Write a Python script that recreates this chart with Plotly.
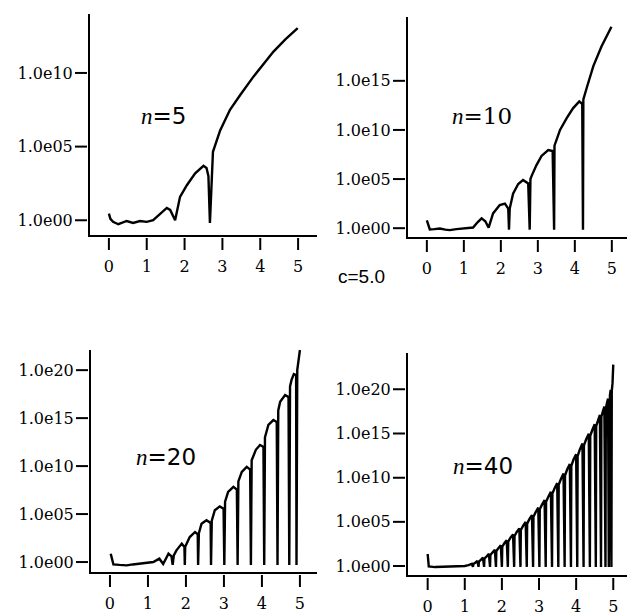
import plotly.graph_objects as go

# Curves, log10 of |f| (dips drawn to the plot floor)
n5_x = [0.0, 0.04, 0.11, 0.25, 0.47, 0.64, 0.82, 1.0, 1.17, 1.35, 1.53, 1.62, 1.75,
        1.88, 2.06, 2.28, 2.5, 2.58, 2.63, 2.67, 2.75, 2.94, 3.2, 3.47, 3.82, 4.35,
        4.67, 4.99]
n5_logy = [0.45, 0.1, -0.11, -0.27, -0.05, -0.18, -0.05, -0.11, 0.0, 0.45, 0.84, 0.7, 0.0,
           1.59, 2.38, 3.18, 3.7, 3.55, 3.0, -0.18, 4.65, 6.1, 7.5, 8.5, 9.75, 11.45,
           12.3, 13.04]

n10_x = [0.0, 0.08, 0.2, 0.35, 0.5, 0.62, 0.8, 1.0, 1.25, 1.37, 1.48, 1.58, 1.67,
         1.79, 1.97, 2.11, 2.2, 2.22, 2.24, 2.33, 2.47, 2.6, 2.74, 2.78, 2.8, 2.83,
         2.96, 3.1, 3.28, 3.4, 3.44, 3.45, 3.6, 3.78, 3.95, 4.12, 4.2, 4.22, 4.23,
         4.33, 4.5, 4.72, 4.99]
n10_logy = [0.8, -0.13, -0.1, -0.03, -0.15, -0.2, -0.1, -0.05, 0.07, 0.6, 1.0, 0.7, 0.05,
            1.5, 2.35, 2.5, 2.0, -0.15, 2.0, 3.5, 4.5, 4.9, 4.55, -0.15, 5.0, 5.3,
            6.4, 7.35, 7.96, 7.85, -0.15, 8.4, 10.0, 11.2, 12.2, 12.9, 12.65, -0.15, 13.1,
            14.4, 16.5, 18.5, 20.5]

n20_x = [0.02, 0.09, 0.25, 0.44, 0.6, 0.79, 1.0, 1.14, 1.3, 1.4, 1.54, 1.62, 1.65,
         1.68, 1.75, 1.89, 1.96, 1.97, 1.98, 2.02, 2.1, 2.24, 2.31, 2.32, 2.34, 2.41,
         2.54, 2.65, 2.66, 2.68, 2.76, 2.89, 2.99, 3.01, 3.03, 3.11, 3.25, 3.34, 3.36,
         3.38, 3.47, 3.6, 3.69, 3.71, 3.73, 3.84, 3.95, 4.04, 4.06, 4.08, 4.17, 4.3,
         4.39, 4.41, 4.43, 4.48, 4.61, 4.7, 4.72, 4.74, 4.78, 4.84, 4.9, 4.91, 4.93,
         5.0]
n20_logy = [0.87, -0.24, -0.3, -0.35, -0.25, -0.17, -0.1, 0.0, 0.35, -0.2, 0.87, 0.6, -0.3,
            0.7, 1.22, 1.92, 1.57, -0.3, 1.6, 1.92, 2.6, 3.13, 2.9, -0.3, 3.0, 4.0,
            4.35, 4.07, -0.3, 4.3, 5.4, 5.8, 5.57, -0.3, 6.3, 7.3, 7.83, 7.56, -0.3,
            8.4, 9.4, 9.92, 9.64, -0.3, 10.6, 11.7, 12.2, 12.0, -0.3, 13.0, 14.3, 14.8,
            14.6, -0.3, 15.8, 16.7, 17.4, 17.2, -0.3, 18.3, 19.0, 19.6, 19.5, -0.3, 20.0,
            22.1]

n40_x = [0.0, 0.03, 0.2, 0.5, 0.8, 1.0, 1.1, 1.19, 1.22,
         1.23, 1.29, 1.34, 1.37, 1.38, 1.44, 1.49, 1.52, 1.53, 1.59, 1.65, 1.68,
         1.69, 1.75, 1.81, 1.84, 1.85, 1.91, 1.97, 2.0, 2.01, 2.07, 2.13, 2.16,
         2.17, 2.23, 2.3, 2.33, 2.34, 2.4, 2.47, 2.5, 2.51, 2.57, 2.64, 2.67,
         2.68, 2.74, 2.81, 2.84, 2.85, 2.91, 2.98, 3.01, 3.02, 3.08, 3.15, 3.18,
         3.19, 3.25, 3.32, 3.35, 3.36, 3.42, 3.49, 3.52, 3.53, 3.59, 3.66, 3.69,
         3.7, 3.76, 3.83, 3.86, 3.87, 3.93, 4.0, 4.03, 4.04, 4.1, 4.17, 4.2,
         4.21, 4.27, 4.34, 4.37, 4.38, 4.44, 4.5, 4.53, 4.54, 4.59, 4.64, 4.67,
         4.68, 4.72, 4.76, 4.79, 4.8, 4.83, 4.86, 4.88, 4.89, 4.91, 4.93, 4.95,
         4.96, 4.98, 5.0]
n40_logy = [1.36, -0.05, -0.12, -0.1, -0.05, 0.0, 0.1, 0.24, -0.1,
            0.22, 0.4, 0.58, -0.1, 0.5, 0.72, 0.95, -0.1, 0.85, 1.1, 1.37, -0.1,
            1.25, 1.55, 1.83, -0.1, 1.7, 2.05, 2.35, -0.1, 2.2, 2.6, 2.92, -0.1,
            2.75, 3.2, 3.58, -0.1, 3.4, 3.85, 4.26, -0.1, 4.08, 4.55, 4.98, -0.1,
            4.8, 5.3, 5.76, -0.1, 5.58, 6.1, 6.6, -0.1, 6.42, 6.95, 7.46, -0.1,
            7.28, 7.85, 8.4, -0.1, 8.2, 8.8, 9.38, -0.1, 9.2, 9.85, 10.46, -0.1,
            10.25, 10.95, 11.56, -0.1, 11.35, 12.05, 12.66, -0.1, 12.45, 13.2, 13.86, -0.1,
            13.65, 14.35, 14.96, -0.1, 14.75, 15.45, 16.05, -0.1, 15.85, 16.5, 17.1, -0.1,
            16.9, 17.5, 18.05, -0.1, 17.85, 18.45, 18.95, -0.1, 18.75, 19.35, 19.95, -0.1,
            19.8, 20.7, 22.8]

x_ticks = [0, 1, 2, 3, 4, 5]
y_exp_small = [0, 5, 10]
y_exp_mid = [0, 5, 10, 15]
y_exp_big = [0, 5, 10, 15, 20]
n_labels = ["5", "10", "20", "40"]
c_label = "c=5.0"

SERIF = "DejaVu Serif"
SANS = "DejaVu Sans"

# (x, logy, y tick exponents, x domain, y domain, x range, y range in decades)
panels = [
    (n5_x, n5_logy, y_exp_small, [0.1435, 0.5056], [0.6179, 0.9772], [-0.5, 5.5], [-1.0, 14.0]),
    (n10_x, n10_logy, y_exp_mid, [0.6507, 1.0], [0.6146, 0.9724], [-0.51, 5.41], [-0.9, 21.5]),
    (n20_x, n20_logy, y_exp_big, [0.1451, 0.5056], [0.0699, 0.4309], [-0.5, 5.45], [-1.04, 22.1]),
    (n40_x, n40_logy, y_exp_big, [0.6507, 1.0], [0.065, 0.4265], [-0.53, 5.37], [-1.02, 24.15]),
]

fig = go.Figure()
layout = {}
shapes = []
tick_style = dict(type="line", line=dict(color="black", width=2))

for i, (xs, ly, yexp, xdom, ydom, xr, yr) in enumerate(panels, start=1):
    suffix = "" if i == 1 else str(i)
    # y plotted as the exponent itself on a linear axis, labelled 1.0eNN
    fig.add_trace(go.Scatter(
        x=xs, y=ly, mode="lines",
        line=dict(color="black", width=2.4),
        xaxis="x" + suffix, yaxis="y" + suffix, showlegend=False,
        hoverinfo="skip",
    ))
    layout["xaxis" + suffix] = dict(
        domain=xdom, range=xr, anchor="y" + suffix,
        tickmode="array", tickvals=x_ticks, ticktext=[str(t) for t in x_ticks],
        tickfont=dict(family=SERIF, size=16, color="black"),
        ticklabelstandoff=16,
    )
    layout["yaxis" + suffix] = dict(
        domain=ydom, range=yr, anchor="x" + suffix,
        tickmode="array", tickvals=yexp,
        ticktext=["1.0e%02d" % e for e in yexp],
        tickfont=dict(family=SERIF, size=16, color="black"),
        ticklabelstandoff=12,
    )
    # tick marks, set a little off the axis lines as in the scan
    for t in x_ticks:
        shapes.append(dict(tick_style, xref="x" + suffix, x0=t, x1=t,
                           yref="paper", yanchor=ydom[0], ysizemode="pixel",
                           y0=-3, y1=-15))
    for e in yexp:
        shapes.append(dict(tick_style, yref="y" + suffix, y0=e, y1=e,
                           xref="paper", xanchor=xdom[0], xsizemode="pixel",
                           x0=-3, x1=-15))

fig.update_layout(template="none", shapes=shapes, **layout)
fig.update_xaxes(showline=True, linecolor="black", linewidth=2, ticks="",
                 showgrid=False, zeroline=False, mirror=False, fixedrange=True)
fig.update_yaxes(showline=True, linecolor="black", linewidth=2, ticks="",
                 showgrid=False, zeroline=False, mirror=False, fixedrange=True)

# n= labels
label_pos = [(0.26, 0.811), (0.769, 0.811), (0.265, 0.257), (0.77, 0.242)]
for txt, (px, py) in zip(n_labels, label_pos):
    fam = SERIF if txt == "10" else SANS
    fig.add_annotation(
        x=px, y=py, xref="paper", yref="paper", showarrow=False,
        xanchor="center", yanchor="middle",
        text="<span style=\"font-family:'Liberation Serif'\"><i>n</i></span>=" + txt,
        font=dict(family=fam, size=23, color="black"),
    )

fig.add_annotation(
    x=0.577, y=0.551, xref="paper", yref="paper", showarrow=False,
    xanchor="center", yanchor="middle",
    text=c_label, font=dict(family="Liberation Sans", size=19, color="black"),
)

fig.update_layout(
    width=627, height=615,
    margin=dict(l=0, r=0, t=0, b=0),
    paper_bgcolor="white", plot_bgcolor="white",
    showlegend=False,
)

fig.write_html("out.html", config={"displayModeBar": False},
               post_script="document.body.style.margin='0px';")
